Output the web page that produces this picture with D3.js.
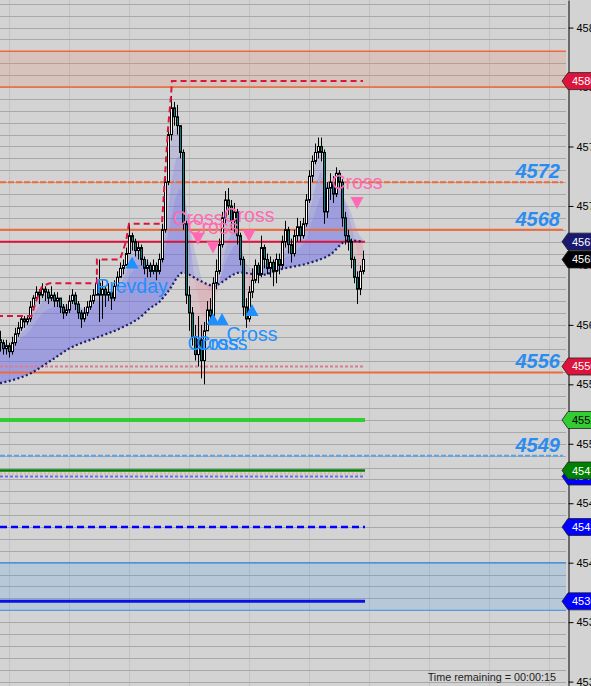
<!DOCTYPE html>
<html>
<head>
<meta charset="utf-8">
<script src="https://cdn.jsdelivr.net/npm/d3@7"></script>
<style>
  html, body { margin: 0; padding: 0; background: #d3d3d3; overflow: hidden; }
  svg { display: block; font-family: "Liberation Sans", Arial, sans-serif; }
</style>
</head>
<body>
<div id="chart"></div>
<script>
var width = 591, height = 686;
var plotRight = 566, axisX = 568;

// candles, one per bar; open = previous close
var firstOpen = 4558.75;
var closes = [4558.5,4558,4558.25,4557.75,4558.5,4559.25,4559.75,4560.5,4560.25,4560.5,
  4561.5,4562.25,4562.75,4562.5,4563,4562.75,4562.25,4562.5,4562,4562.25,
  4561.5,4561,4561.25,4562,4562.5,4561.75,4561,4560.5,4561,4561.5,
  4562,4562.5,4563.5,4562.5,4563,4562.5,4562.75,4562.25,4563.25,4564,
  4564.75,4565,4566,4567.5,4567,4566.25,4566.5,4565.5,4564.75,4565,
  4564.5,4565,4564.5,4565.5,4568,4572,4576,4578.25,4577.5,4576.75,
  4574.5,4568.5,4562.5,4561,4559,4557.5,4558.75,4557,4559.5,4561.25,
  4560.75,4563.5,4564.5,4566.75,4569,4570.5,4570,4568.75,4569.5,4567.5,
  4565.5,4561.5,4560.5,4562.75,4563.75,4565,4564.25,4566.5,4565.5,4564.75,
  4565.25,4564.5,4565.5,4565,4567,4568,4566.75,4566,4567.5,4568.25,
  4567.5,4568.5,4570.5,4572.5,4573.75,4574.5,4575,4574.5,4569.5,4571.5,
  4572,4571,4572.75,4572,4569,4567.5,4567,4565.5,4564,4563,
  4564.5,4565.5];
var highs = [4559.5,4558.75,4558.75,4558.5,4559,4559.75,4560.25,4560.75,4560.75,4560.75,
  4562,4562.5,4563.25,4563,4563.5,4563.25,4563,4563.25,4562.75,4562.75,
  4562.25,4561.75,4561.75,4562.5,4563,4562.75,4562,4561.25,4561.5,4562,
  4562.5,4563,4564,4565.5,4563.75,4563.25,4563.5,4563,4563.75,4564.5,
  4565.25,4565.5,4566.5,4568.5,4567.75,4567.25,4567,4566.75,4565.75,4565.5,
  4565.25,4565.5,4565.25,4566,4568.5,4572.5,4576.5,4579.25,4578.75,4578.5,
  4576.75,4574.75,4568.75,4563.25,4561.5,4560,4560.75,4560,4560.25,4562,
  4562.25,4564,4565.5,4567.25,4569.5,4571.25,4571.5,4570.5,4570.25,4569.75,
  4567.75,4565.75,4562.25,4563.25,4564.75,4565.5,4565.25,4567.5,4566.75,4566,
  4565.75,4565.5,4566,4566,4567.5,4568.75,4568.25,4567.25,4568,4569,
  4568.75,4569,4571,4573,4574.25,4575.25,4575.75,4575.75,4574.75,4572,
  4572.75,4572.5,4573.25,4573,4572.25,4569.5,4568,4567.25,4565.75,4564.5,
  4565,4566.25];
var lows = [4557.75,4557.5,4557.5,4557.25,4557.5,4558.25,4559,4559.5,4559.75,4560,
  4560.25,4561.25,4562,4561.75,4562.25,4562,4561.75,4562,4561.5,4561.5,
  4561,4560.5,4560.75,4561,4561.75,4561.25,4560.5,4559.75,4560.25,4560.75,
  4561.25,4561.75,4562.5,4560.25,4560.5,4561.5,4562,4561.25,4562,4563.25,
  4564,4564.25,4565,4566,4566.25,4565.75,4565.5,4565,4564.25,4564,
  4564,4564.25,4563.75,4564.25,4565.25,4567.75,4571.75,4575.5,4576.75,4576,
  4574,4568,4561.75,4559.5,4558.25,4557,4556.5,4555.5,4555,4559.5,
  4560,4560.5,4563,4564.25,4566.5,4568.5,4569.25,4568,4567.75,4566.75,
  4565,4560.75,4559.75,4560.25,4562.25,4563.5,4563.5,4564,4564.75,4564.25,
  4564,4563.25,4563.5,4564.25,4564.75,4566.5,4566,4565.25,4565.75,4567,
  4567,4567.25,4568.25,4570.25,4572,4573.5,4574,4573.75,4568.5,4569,
  4570.5,4570.25,4570.75,4571.5,4568.25,4566.75,4566.25,4564.75,4563.5,4561.75,
  4562.5,4564.25];

// dotted average line, read at a few bars
var vwapBars = [0, 10, 17, 23, 33, 40, 47, 50, 53, 56, 61, 66, 71, 80, 87, 94, 103, 110, 116, 121];
var vwapVals = [4555.1, 4555.9, 4557, 4558, 4559, 4559.7, 4560.7, 4561.4, 4561.9, 4562.8,
  4564.4, 4563.8, 4563.3, 4564.4, 4564.2, 4564.7, 4565.2, 4565.9, 4567.1, 4567];

// running high (red dashed steps)
var runHighBars = [-1, 10.5, 12, 14, 16.5, 32.3, 32.3, 40, 41, 42, 43, 53, 54, 55, 56, 57, 57.3, 121];
var runHighVals = [4560.75, 4560.75, 4562, 4563.25, 4563.5, 4563.5, 4565.5, 4565.5, 4566.25, 4567,
  4568.5, 4568.5, 4568.5, 4572.5, 4576.5, 4579.25, 4580.5, 4580.5];

// zones
var zoneTops = [4583, 4540];
var zoneBottoms = [4580, 4536];

// full width lines with labels
var levelPrices = [4572, 4568, 4556, 4549];

// short lines that stop at the last bar
var shortPrices = [4567, 4556.5, 4552, 4547.75, 4547.5, 4547.25, 4543, 4536.75];

// price flags on the axis
var flagPrices = [4580.5, 4567, 4565.5, 4556.5, 4552, 4547.25, 4547.75, 4543, 4536.75];

// signals
var upBars = [44, 71, 74, 84];
var upPrices = [4565.25, 4560.5, 4560.5, 4561.25];
var upTexts = ["Prevday", "Cross", "Cross", "Cross"];
var downBars = [66, 71, 83, 119];
var downPrices = [4567.25, 4566.5, 4567.5, 4570.25];
var downTexts = ["Cross", "Cross", "Cross", "Cross"];

var axisTicks = d3.range(4530, 4586, 5);
var gridBars = d3.range(3, 190, 20);

var x = d3.scaleLinear().domain([0, 121]).range([0, 363]);
var y = d3.scaleLinear().domain([4587.32, 4529.63]).range([0, height]);

var svg = d3.select("#chart").append("svg")
  .attr("width", width)
  .attr("height", height);

svg.append("rect").attr("width", width).attr("height", height).attr("fill", "#d3d3d3");

// grid
svg.append("g").selectAll("line")
  .data(gridBars)
  .join("line")
  .attr("x1", d => Math.round(x(d)) + 0.5).attr("x2", d => Math.round(x(d)) + 0.5)
  .attr("y1", 0).attr("y2", height)
  .attr("stroke", "#c2c2c2");

svg.append("g").selectAll("line")
  .data(d3.range(4530, 4588))
  .join("line")
  .attr("x1", 0).attr("x2", plotRight)
  .attr("y1", d => Math.round(y(d)) + 0.5).attr("y2", d => Math.round(y(d)) + 0.5)
  .attr("stroke", "#a8a8a8");

// zones
var zoneFill = ["rgba(240,110,70,0.16)", "rgba(30,144,255,0.15)"];
var zoneEdge = ["#ee6a3a", "#3d96f0"];
zoneTops.forEach(function (t, i) {
  svg.append("rect")
    .attr("x", 0).attr("width", plotRight)
    .attr("y", y(t)).attr("height", y(zoneBottoms[i]) - y(t))
    .attr("fill", zoneFill[i]);
  [t, zoneBottoms[i]].forEach(function (p) {
    svg.append("line").attr("x1", 0).attr("x2", plotRight)
      .attr("y1", y(p)).attr("y2", y(p))
      .attr("stroke", zoneEdge[i]).attr("stroke-width", i == 0 ? 1.5 : 1.2);
  });
});

// cloud between the average line and faster averages of the closes
function ema(arr, n) {
  var k = 2 / (n + 1), out = [], e = arr[0];
  arr.forEach(function (v, i) { e = i ? e + k * (v - e) : v; out.push(e); });
  return out;
}
var vwapPts = vwapBars.map((b, i) => [b, vwapVals[i]]);
var defs = svg.append("defs");
defs.append("clipPath").attr("id", "aboveV").append("path")
  .attr("d", d3.area().x(d => x(d[0])).y0(0).y1(d => y(d[1])).curve(d3.curveMonotoneX)(vwapPts));
defs.append("clipPath").attr("id", "belowV").append("path")
  .attr("d", d3.area().x(d => x(d[0])).y0(height).y1(d => y(d[1])).curve(d3.curveMonotoneX)(vwapPts));

var cloud = svg.append("g");
[3, 7, 14].forEach(function (n) {
  var pts = ema(closes, n).map((v, i) => [i, v]);
  cloud.append("path")
    .attr("d", d3.area().x(d => x(d[0])).y0(height).y1(d => y(d[1])).curve(d3.curveMonotoneX)(pts))
    .attr("fill", "rgba(105,105,235,0.2)")
    .attr("clip-path", "url(#aboveV)");
  cloud.append("path")
    .attr("d", d3.area().x(d => x(d[0])).y0(0).y1(d => y(d[1])).curve(d3.curveMonotoneX)(pts))
    .attr("fill", "rgba(240,120,140,0.17)")
    .attr("clip-path", "url(#belowV)");
});

// labelled full width lines
var levelDash = ["6,2", null, null, "5,2"];
var levelColor = ["#ee6a3a", "#ee6a3a", "#ee6a3a", "#5aa2e8"];
levelPrices.forEach(function (p, i) {
  svg.append("line").attr("x1", 0).attr("x2", plotRight - 3)
    .attr("y1", y(p)).attr("y2", y(p))
    .attr("stroke", levelColor[i]).attr("stroke-width", 2)
    .attr("stroke-dasharray", levelDash[i]);
  svg.append("text")
    .attr("x", 560).attr("y", y(p) - 4)
    .attr("text-anchor", "end")
    .attr("font-size", "20px").attr("font-weight", "bold").attr("font-style", "italic")
    .attr("fill", "#2a8cf0")
    .text(p);
});

// short lines
var shortColor = ["#dc143c", "#e07890", "#32cd32", "#008000", "#e2b49a", "#6c6cf0", "#0000ff", "#0a10e0"];
var shortWidth = [2, 2, 4, 2.5, 2, 2, 2.5, 3];
var shortDash = [null, "3,2", null, null, "2,2", "3,2", "7,4", null];
shortPrices.forEach(function (p, i) {
  svg.append("line").attr("x1", 0).attr("x2", x(121) + 2)
    .attr("y1", y(p)).attr("y2", y(p))
    .attr("stroke", shortColor[i]).attr("stroke-width", shortWidth[i])
    .attr("stroke-dasharray", shortDash[i]);
});

// dotted average line
svg.append("path")
  .attr("d", d3.line().x(d => x(d[0])).y(d => y(d[1])).curve(d3.curveMonotoneX)(vwapPts))
  .attr("fill", "none").attr("stroke", "#1c1c6e")
  .attr("stroke-width", 2.2).attr("stroke-dasharray", "2,2.5");

// candles
var bars = closes.map(function (c, i) {
  return { i: i, o: i ? closes[i - 1] : firstOpen, c: c, h: highs[i], l: lows[i] };
});
var candle = svg.append("g").selectAll("g").data(bars).join("g");
candle.append("line")
  .attr("x1", d => Math.round(x(d.i)) + 0.5).attr("x2", d => Math.round(x(d.i)) + 0.5)
  .attr("y1", d => y(d.h)).attr("y2", d => y(d.l))
  .attr("stroke", "#000");
candle.append("rect")
  .attr("x", d => Math.round(x(d.i)) - 0.5)
  .attr("width", 2)
  .attr("y", d => y(Math.max(d.o, d.c)))
  .attr("height", d => Math.max(1, Math.abs(y(d.o) - y(d.c))))
  .attr("fill", d => d.c >= d.o ? "#ffffff" : "#008080")
  .attr("stroke", "#000").attr("stroke-width", 1);

// running high
svg.append("path")
  .attr("d", d3.line().x(d => x(d[0])).y(d => y(d[1]))(runHighBars.map((b, i) => [b, runHighVals[i]])))
  .attr("fill", "none").attr("stroke", "#dc143c")
  .attr("stroke-width", 2).attr("stroke-dasharray", "6,4");

// signals
var sig = svg.append("g").attr("font-size", "19.5px");
upBars.forEach(function (b, i) {
  var cx = x(b), cy = y(upPrices[i]);
  sig.append("path")
    .attr("d", "M" + (cx - 6.5) + "," + (cy + 6) + "L" + (cx + 6.5) + "," + (cy + 6) + "L" + cx + "," + (cy - 6) + "Z")
    .attr("fill", "#1e90ff");
  sig.append("text").attr("x", cx).attr("y", cy + 31)
    .attr("text-anchor", "middle").attr("fill", "#1e90ff").text(upTexts[i]);
});
downBars.forEach(function (b, i) {
  var cx = x(b), cy = y(downPrices[i]);
  sig.append("path")
    .attr("d", "M" + (cx - 6.5) + "," + (cy - 6) + "L" + (cx + 6.5) + "," + (cy - 6) + "L" + cx + "," + (cy + 6) + "Z")
    .attr("fill", "#ff69b4");
  sig.append("text").attr("x", cx).attr("y", cy - 14)
    .attr("text-anchor", "middle").attr("fill", "#ff69b4").text(downTexts[i]);
});

// price axis
svg.append("rect").attr("x", axisX).attr("width", width - axisX).attr("height", height).attr("fill", "#d3d3d3");
var axis = svg.append("g")
  .attr("transform", "translate(" + (axisX + 0.5) + ",0)")
  .call(d3.axisRight(y).tickValues(axisTicks).tickSize(5).tickPadding(3).tickSizeOuter(0).tickFormat(d3.format(".2f")));
axis.select(".domain").attr("stroke", "#000");
axis.selectAll(".tick line").attr("stroke", "#000");
axis.selectAll("text").attr("font-size", "11px").attr("fill", "#000")
  .attr("font-family", "'Liberation Sans', Arial, sans-serif");

// flags
var flagColor = ["#dc143c", "#191970", "#000000", "#dc143c", "#32cd32", "#0000ff", "#008000", "#0000ff", "#0000ff"];
var flagText = ["#fff", "#fff", "#fff", "#fff", "#000", "#fff", "#fff", "#fff", "#fff"];
flagPrices.forEach(function (p, i) {
  var cy = y(p);
  svg.append("path")
    .attr("d", "M562," + cy + "L568," + (cy - 8.5) + "L600," + (cy - 8.5) + "L600," + (cy + 8.5) + "L568," + (cy + 8.5) + "Z")
    .attr("fill", flagColor[i]).attr("stroke", "#222").attr("stroke-width", 0.8);
  svg.append("text").attr("x", 572).attr("y", cy + 4)
    .attr("font-size", "11px").attr("fill", flagText[i])
    .text(d3.format(".2f")(p));
});

svg.append("text")
  .attr("x", 556).attr("y", 681)
  .attr("text-anchor", "end")
  .attr("font-size", "10.8px").attr("fill", "#222")
  .text("Time remaining = 00:00:15");
</script>
</body>
</html>
